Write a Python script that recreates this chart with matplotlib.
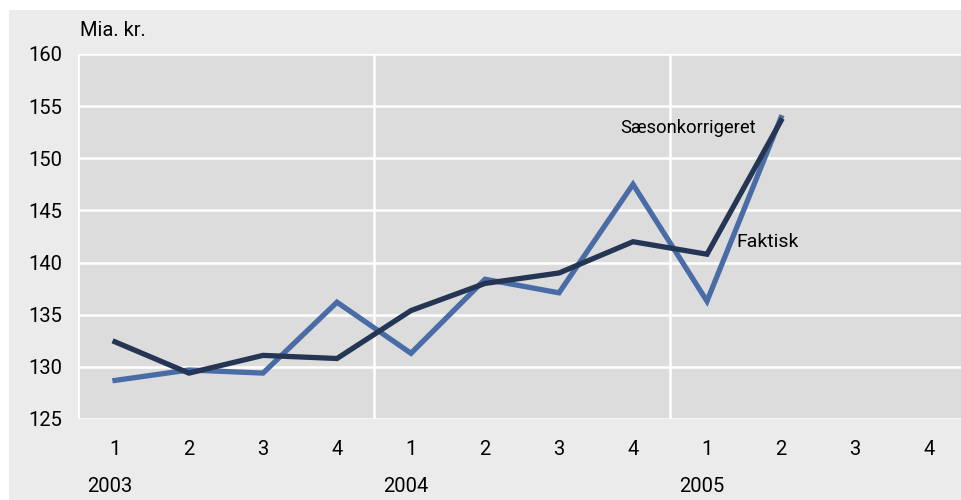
import matplotlib
matplotlib.use("Agg")
import matplotlib.pyplot as plt
from matplotlib.patches import Rectangle
from matplotlib import font_manager

quarters = ["1", "2", "3", "4"] * 3
years = ["2003", "2004", "2005"]
faktisk = [128.7, 129.7, 129.4, 136.2, 131.3, 138.4, 137.1, 147.5, 136.3, 153.9]
saeson = [132.4, 129.4, 131.1, 130.8, 135.4, 138.0, 139.0, 142.0, 140.8, 153.6]
yticks = [125, 130, 135, 140, 145, 150, 155, 160]

names = {f.name for f in font_manager.fontManager.ttflist}
fam = [n for n in ['Liberation Sans Narrow', 'Roboto', 'Open Sans'] if n in names] + ['DejaVu Sans']

W, H = 961, 500
fig = plt.figure(figsize=(W / 100, H / 100), dpi=100)
fig.patch.set_facecolor("white")
fig.patches.append(Rectangle((9 / W, 0), 1, (H - 10) / H, transform=fig.transFigure,
                             facecolor="#ebebeb", edgecolor="none", zorder=-10))

plt.rcParams['font.family'] = fam
fs = 14.5
left, right, top, bot = 78, 966, 54, 419
ax = fig.add_axes([left / W, 1 - bot / H, (right - left) / W, (bot - top) / H])
ax.set_facecolor("#dcdcdc")
ax.set_xlim(-0.5, 11.5)
ax.set_ylim(125, 160)
for s in ax.spines.values():
    s.set_visible(False)

for y in yticks:
    ax.axhline(y, color="white", lw=1.8, zorder=1)
for xv in [3.5, 7.5]:
    ax.axvline(xv, color="white", lw=1.8, zorder=1)
ax.axvline(-0.5, color="white", lw=2, zorder=1)

x = list(range(len(faktisk)))
ax.plot(x, faktisk, color="#4a6ca6", lw=3.8, zorder=3, solid_joinstyle="miter")
ax.plot(x, saeson, color="#253655", lw=3.8, zorder=4, solid_joinstyle="miter")

ax.set_yticks(yticks)
ax.set_yticklabels([str(v) for v in yticks], fontsize=fs)
ax.set_xticks(range(12))
ax.set_xticklabels(quarters, fontsize=fs)
ax.tick_params(length=0)
ax.tick_params(axis="x", pad=15)
ax.tick_params(axis="y", pad=11.5)

for i, yr in enumerate(years):
    ax.text(i * 4 - 0.07, -0.186, yr, transform=ax.get_xaxis_transform(),
            ha="center", va="center", fontsize=fs)

fig.text(80 / W, 1 - 30 / H, "Mia. kr.", fontsize=fs, ha="left", va="center")
ax.text(7.74, 152.9, "Sæsonkorrigeret", fontsize=13.2, ha="center", va="center", zorder=5)
ax.text(8.82, 142.0, "Faktisk", fontsize=14, ha="center", va="center", zorder=5)

fig.savefig("out.png", dpi=100, facecolor=fig.get_facecolor())
